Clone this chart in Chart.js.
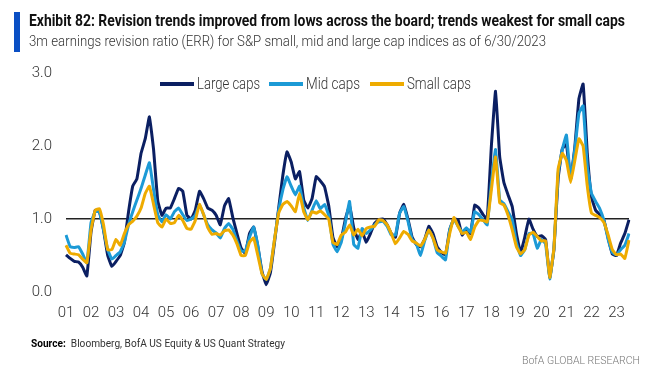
<!DOCTYPE html>
<html>
<head>
<meta charset="utf-8">
<script src="https://cdn.jsdelivr.net/npm/chart.js@4/dist/chart.umd.min.js"></script>
<style>
  html, body { margin:0; padding:0; background:#fff; }
  #wrap { position:relative; width:646px; height:378px; overflow:hidden; background:#fff; }
  #cv { position:absolute; left:0; top:0; }
  .t { position:absolute; white-space:nowrap; display:inline-block; transform-origin:0 50%; font-family:"Liberation Sans Narrow","Roboto","Open Sans",sans-serif; line-height:1; }
  #bar { position:absolute; left:14px; top:12px; width:6px; height:40px; background:#0a4fc4; }
  .sw { position:absolute; height:4px; width:34px; }
</style>
</head>
<body>
<div id="wrap">
  <canvas id="cv" width="646" height="378"></canvas>
  <div id="bar"></div>
  <div class="t" id="title" data-w="596" style="left:29px;top:13px;font-size:16px;font-weight:bold;color:#111;">Exhibit 82: Revision trends improved from lows across the board; trends weakest for small caps</div>
  <div class="t" id="sub" data-w="517" style="left:29px;top:34px;font-size:15px;font-weight:300;color:#333;">3m earnings revision ratio (ERR) for S&amp;P small, mid and large cap indices as of 6/30/2023</div>
  <div class="sw" style="left:160px;top:82px;background:#0b1f62;"></div>
  <div class="t" data-w="63" style="left:197px;top:76px;font-size:16px;font-weight:300;color:#333;">Large caps</div>
  <div class="sw" style="left:269px;top:82px;background:#1c9ad6;"></div>
  <div class="t" data-w="54" style="left:306px;top:76px;font-size:16px;font-weight:300;color:#333;">Mid caps</div>
  <div class="sw" style="left:370px;top:82px;background:#eeab00;"></div>
  <div class="t" data-w="64" style="left:407px;top:76px;font-size:16px;font-weight:300;color:#333;">Small caps</div>
  <div class="t" data-w="254" style="left:31px;top:338px;font-size:11.5px;color:#333;"><b style="color:#000">Source:</b>&nbsp; Bloomberg, BofA US Equity &amp; US Quant Strategy</div>
  <div class="t" data-w="118" style="left:522px;top:355px;font-size:11.5px;font-weight:300;color:#777;">BofA GLOBAL RESEARCH</div>
</div>
<script>
// Year tick labels
const yearLabels = ['01','02','03','04','05','06','07','08','09','10','11','12','13','14','15','16','17','18','19','20','21','22','23'];
// Bi-monthly observations from Jan 2001 to Jun 2023
const largeCaps = [
  0.51,0.46,0.42,0.41,0.34,0.22,
  0.82,1.12,1.10,0.85,0.50,0.35,
  0.42,0.50,0.68,1.10,1.45,1.55,
  1.90,2.10,2.40,1.95,1.25,1.05,
  1.15,1.15,1.28,1.42,1.38,1.05,
  1.00,1.12,1.38,1.28,1.15,1.12,
  1.05,0.92,1.18,1.28,1.02,0.80,
  0.60,0.53,0.80,0.89,0.62,0.28,
  0.10,0.26,0.68,1.15,1.60,1.92,
  1.78,1.55,1.65,1.26,1.15,1.28,
  1.58,1.52,1.44,1.18,0.75,0.62,
  0.72,1.00,1.18,0.88,0.72,0.83,
  0.68,0.80,0.94,0.99,1.00,0.92,
  0.80,0.75,1.08,1.20,1.00,0.75,
  0.65,0.62,0.72,0.90,0.80,0.62,
  0.54,0.51,0.85,1.00,0.99,0.78,
  0.86,0.80,1.19,1.15,1.06,1.00,
  2.00,2.75,1.85,1.50,1.33,1.17,
  0.80,0.54,0.75,1.00,0.86,0.76,
  0.77,0.72,0.20,0.58,1.55,1.96,
  2.02,1.55,1.98,2.65,2.85,1.90,
  1.30,1.12,1.06,0.98,0.74,0.52,
  0.50,0.67,0.80,0.99
];
const midCaps = [
  0.78,0.62,0.61,0.62,0.52,0.40,
  0.95,1.10,1.10,0.85,0.58,0.45,
  0.50,0.55,0.68,0.92,1.10,1.26,
  1.42,1.60,1.77,1.40,1.06,0.96,
  1.06,1.00,1.10,1.15,1.06,0.98,
  1.00,1.05,1.20,1.06,0.92,0.85,
  0.81,0.74,0.87,0.94,0.86,0.70,
  0.56,0.56,0.75,0.89,0.64,0.25,
  0.17,0.32,0.72,1.12,1.40,1.58,
  1.45,1.33,1.45,1.16,0.98,1.12,
  1.25,1.14,1.20,1.05,0.66,0.55,
  0.68,0.95,1.24,0.65,0.60,0.87,
  0.80,0.85,0.92,0.96,0.97,0.90,
  0.78,0.78,1.08,1.17,0.97,0.72,
  0.66,0.50,0.70,0.85,0.74,0.54,
  0.49,0.44,0.85,1.00,0.90,0.82,
  0.88,0.82,1.10,1.06,0.99,0.92,
  1.50,1.95,1.26,1.21,1.10,0.99,
  0.68,0.50,0.58,0.80,0.80,0.60,
  0.72,0.66,0.18,0.60,1.62,1.95,
  2.15,1.55,1.95,2.45,2.55,1.72,
  1.35,1.24,1.14,0.98,0.72,0.54,
  0.51,0.58,0.64,0.80
];
const smallCaps = [
  0.64,0.53,0.52,0.51,0.45,0.40,
  0.85,1.12,1.14,0.92,0.58,0.58,
  0.72,0.64,0.80,0.92,0.97,1.04,
  1.15,1.35,1.45,1.20,0.95,0.89,
  1.00,0.94,0.95,1.05,0.98,0.87,
  0.86,0.98,1.20,1.06,0.88,0.79,
  0.80,0.78,0.84,0.85,0.78,0.66,
  0.50,0.50,0.68,0.74,0.50,0.25,
  0.17,0.32,0.72,1.08,1.20,1.24,
  1.18,1.10,1.35,1.10,0.99,1.10,
  1.08,1.11,1.06,1.00,0.68,0.65,
  0.78,0.82,0.92,0.78,0.86,0.77,
  0.87,0.89,0.90,0.99,0.98,0.92,
  0.80,0.66,0.74,0.83,0.79,0.70,
  0.67,0.63,0.72,0.85,0.74,0.58,
  0.55,0.53,0.80,1.02,0.90,0.80,
  0.82,0.72,0.89,0.98,0.98,0.96,
  1.40,1.85,1.22,1.19,1.05,0.85,
  0.62,0.52,0.58,0.78,0.82,0.76,
  0.70,0.70,0.20,0.60,1.68,1.90,
  1.80,1.50,1.80,2.10,2.00,1.45,
  1.08,1.05,1.02,0.95,0.78,0.58,
  0.51,0.52,0.46,0.71
];
const yTicks = [0, 1, 2, 3];

// category labels: one per two months
const periods = [];
yearLabels.forEach((yy) => {
  for (let m = 1; m <= 11; m += 2) periods.push('20' + yy + '-' + String(m).padStart(2, '0'));
});
periods.length = largeCaps.length;

const tickFont = { family: '"Liberation Sans Narrow","Roboto","Open Sans",sans-serif', size: 15, weight: '300' };

new Chart(document.getElementById('cv'), {
  type: 'line',
  data: {
    labels: periods,
    datasets: [
      { label: 'Large caps', data: largeCaps, borderColor: '#0b1f62', backgroundColor: '#0b1f62', borderWidth: 3, pointRadius: 0, tension: 0.1, order: 3 },
      { label: 'Mid caps', data: midCaps, borderColor: '#1c9ad6', backgroundColor: '#1c9ad6', borderWidth: 3, pointRadius: 0, tension: 0.1, order: 2 },
      { label: 'Small caps', data: smallCaps, borderColor: '#eeab00', backgroundColor: '#eeab00', borderWidth: 3, pointRadius: 0, tension: 0.1, order: 1 }
    ]
  },
  options: {
    responsive: false,
    animation: false,
    layout: { padding: { left: 0, right: 17, top: 73, bottom: 56 } },
    plugins: { legend: { display: false }, tooltip: { enabled: false }, title: { display: false } },
    scales: {
      x: {
        type: 'category',
        offset: false,
        grid: { display: false, drawTicks: false },
        border: { display: false },
        afterFit: (s) => { s.height = 30; },
        ticks: {
          autoSkip: false, maxRotation: 0, minRotation: 0, padding: 12,
          color: '#333', font: tickFont,
          callback: function (v, i) { return i % 6 === 0 ? yearLabels[i / 6] : ''; }
        }
      },
      y: {
        min: 0, max: 3,
        afterBuildTicks: (s) => { s.ticks = yTicks.map(v => ({ value: v })); },
        afterFit: (s) => { s.width = 66; },
        border: { display: false },
        grid: {
          drawTicks: false, lineWidth: 1.5,
          color: (c) => (c.tick && c.tick.value === 1 ? '#222' : 'rgba(0,0,0,0)')
        },
        ticks: { padding: 14, color: '#333', font: tickFont, callback: (v) => Number(v).toFixed(1) }
      }
    }
  }
});

function fit() {
  document.querySelectorAll('.t[data-w]').forEach(el => {
    el.style.transform = 'none';
    const w = el.getBoundingClientRect().width;
    const target = parseFloat(el.dataset.w);
    if (w > 0) el.style.transform = 'scaleX(' + (target / w) + ')';
  });
}
fit();
if (document.fonts && document.fonts.ready) document.fonts.ready.then(fit);
</script>
</body>
</html>
